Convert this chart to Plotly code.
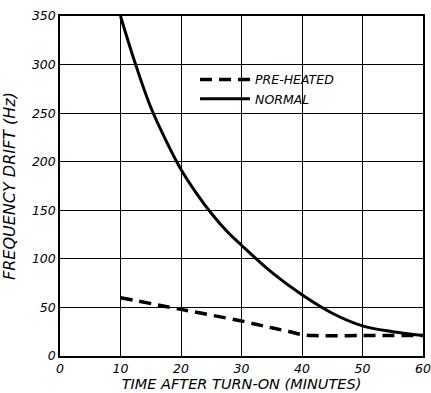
import plotly.graph_objects as go

# values
minutes_normal = [10, 12.5, 15, 17.5, 20, 22.5, 25, 27.5, 30, 35, 40, 45, 50, 55, 60]
drift_normal = [350, 300, 256, 222, 192, 168, 147, 129, 114, 86, 63, 44, 31, 25, 21]

minutes_preheated = [10, 20, 30, 35, 38, 40, 42, 50, 60]
drift_preheated = [60, 48, 36, 29, 25, 22, 21, 21, 21]

x_ticks = [0, 10, 20, 30, 40, 50, 60]
y_ticks = [0, 50, 100, 150, 200, 250, 300, 350]

ink = "black"
face = "DejaVu Sans"

fig = go.Figure()
fig.add_trace(go.Scatter(x=minutes_preheated, y=drift_preheated, mode="lines", name="PRE-HEATED",
                         line=dict(color=ink, width=3.5, dash="12px,7px", shape="spline")))
fig.add_trace(go.Scatter(x=minutes_normal, y=drift_normal, mode="lines", name="NORMAL",
                         line=dict(color=ink, width=3, shape="spline")))

fig.update_layout(
    width=431, height=393,
    margin=dict(l=60, r=8, t=16, b=37),
    paper_bgcolor="white", plot_bgcolor="white",
    font=dict(family=face, size=12.5, color=ink, style="italic"),
    showlegend=True,
    legend=dict(x=0.372, y=0.856, xanchor="left", yanchor="top",
                bgcolor="rgba(0,0,0,0)", itemwidth=50,
                font=dict(family=face, size=12.5, color=ink, style="italic")),
    xaxis=dict(range=[0, 60], tickvals=x_ticks, showgrid=True, gridcolor=ink, gridwidth=1.3,
               showline=True, linecolor=ink, linewidth=1.5, mirror=True, zeroline=False,
               ticks="", automargin=False, ticklabeloverflow="allow",
               title=dict(text="TIME AFTER TURN-ON (MINUTES)", standoff=4,
                          font=dict(family=face, size=14.5, color=ink, style="italic"))),
    yaxis=dict(range=[0, 350], tickvals=y_ticks, showgrid=True, gridcolor=ink, gridwidth=1.3,
               showline=True, linecolor=ink, linewidth=1.5, mirror=True, zeroline=False,
               ticks="", automargin=False, ticklabeloverflow="allow",
               title=dict(text="FREQUENCY DRIFT (Hz)", standoff=14,
                          font=dict(family=face, size=16, color=ink, style="italic"))),
)

# drop the default page margin so the figure sits at the window's corner
fig.write_html("out.html", config={"displayModeBar": False},
               post_script="document.body.style.margin='0';")
